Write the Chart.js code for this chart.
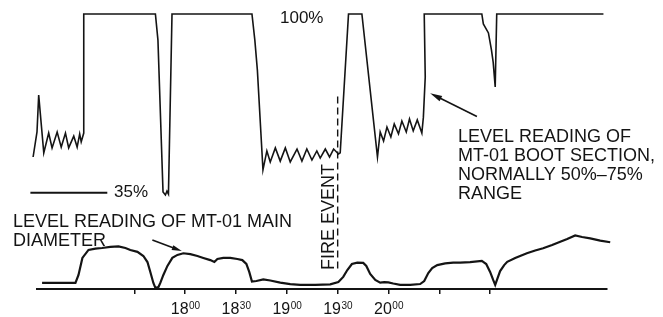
<!DOCTYPE html>
<html><head><meta charset="utf-8">
<script src="https://cdn.jsdelivr.net/npm/chart.js@4/dist/chart.umd.min.js"></script>
<style>html,body{margin:0;padding:0;background:#fff}#wrap{width:663px;height:317px;position:relative}</style>
</head><body><div id="wrap"><canvas id="c" width="663" height="317"></canvas></div>
<script>
// Time axis: minutes after midnight; level in percent
const bootTime = [990.2,992.5,993.5,996.5,999.4,1001.4,1004.4,1006.8,1009.3,1011.2,1014.2,1016.2,1017.7,1018.6,1020.1,1020.1,
  1062.4,1063.9,1066.9,1068.3,1069.2,1070.1,1072.2,
  1119.4,1121.1,1122.6,1125.9,1128.2,1130.2,1133.2,1136.1,1139.1,1142.0,1146.0,1148.9,1151.8,1154.8,1157.7,1159.7,1162.7,1165.2,1167.6,1170.5,1171.5,
  1176.4,1184.3,1193.5,1195.1,1197.1,1199.1,1201.4,1203.4,1205.9,1207.9,1210.5,1212.4,1214.6,1217.0,1219.7,1220.6,1221.7,1221.1,
  1255.1,1256.0,1259.0,1260.8,1261.8,1263.0,1263.9,1326.9];
const bootLevel = [48.0,57.1,70.5,49.5,56.7,51.3,57.1,51.6,56.7,51.3,55.6,51.6,56.4,53.5,56.7,100,
  100,90.5,35.3,34.2,35.6,34.5,100,
  100,90.5,79.6,43.3,50.2,46.2,51.3,46.5,51.3,46.2,50.9,46.5,50.9,46.9,50.2,47.6,50.9,48.0,50.9,49.1,49.5,
  100,100,48.0,57.1,53.8,58.9,55.3,60.0,56.4,61.1,57.1,61.8,57.5,61.5,56.7,62.5,77.1,100,
  100,96.4,93.1,86.9,82.5,73.5,100,100];

const mainTime = [995.5,1015.2,1017.0,1019.3,1022.9,1027.0,1030.9,1035.8,1040.6,1044.7,1047.6,1051.8,1055.3,1057.7,1059.4,1061.2,1062.4,1064.2,1065.3,1067.1,1069.5,1072.4,1075.4,1078.9,1083.0,1087.2,1090.7,1094.8,1097.2,1099.0,1102.5,1106.6,1110.8,1113.7,1116.1,1117.8,1119.4,1122.0,1126.1,1130.2,1136.1,1142.0,1147.9,1156.8,1165.6,1170.4,1173.3,1175.7,1178.4,1181.6,1185.1,1186.9,1189.2,1192.2,1195.1,1197.5,1199.9,1202.8,1206.9,1212.8,1218.7,1221.1,1223.5,1225.8,1228.8,1233.5,1238.2,1242.3,1248.2,1255.1,1257.7,1260.0,1261.8,1263.0,1264.2,1265.9,1268.3,1270.1,1274.8,1281.7,1286.6,1291.3,1296.6,1301.4,1305.5,1310.2,1314.3,1319.1,1325.0,1330.9,1336.8,1339.7];
const mainLevel = [2.2,2.2,5.1,11.3,14.2,14.7,14.9,15.3,15.5,14.9,14.2,13.5,12.0,9.8,6.2,2.2,0.4,0.7,2.2,5.1,8.4,11.3,12.4,13.0,12.7,12.0,11.3,10.5,9.8,10.9,11.3,11.3,10.9,10.5,9.1,6.2,2.7,2.9,3.5,3.1,2.3,1.8,1.5,1.5,1.7,2.5,4.4,6.9,9.1,9.6,9.5,8.4,5.5,3.3,2.3,2.5,2.4,2.0,1.5,1.5,1.8,2.9,5.8,7.6,8.7,9.3,9.6,9.6,9.8,10.2,9.1,6.2,3.3,1.5,3.6,6.5,8.7,9.9,11.3,13.0,14.0,14.8,16.0,17.2,18.2,19.5,18.9,18.4,17.6,17.0,15.6,15.2];

const refTime = [988.6,1034];
const refLevel = [35,35];
const fireTime = [1170,1170];
const fireLevel = [70,6];

const tickMinutes = [1050,1080,1110,1140,1170,1200,1230,1260];
const tickHour = ['','18','18','19','19','20','',''];
const tickSup  = ['','00','30','00','30','00','',''];

const pts = (xs, ys) => xs.map((x,i)=>({x:x,y:ys[i]}));
const INK = '#141414';

const annot = {
  id:'annot',
  afterDraw(chart){
    const ctx = chart.ctx, xs = chart.scales.x, ys = chart.scales.y;
    ctx.save();
    ctx.fillStyle = INK; ctx.strokeStyle = INK;
    // tick labels with superscripts
    tickMinutes.forEach((m,i)=>{
      if(!tickHour[i]) return;
      const px = xs.getPixelForValue(m);
      ctx.font = '16px "Liberation Sans", Arial, sans-serif';
      const w1 = ctx.measureText(tickHour[i]).width;
      ctx.font = '10px "Liberation Sans", Arial, sans-serif';
      const w2 = ctx.measureText(tickSup[i]).width;
      const x0 = px - (w1+w2)/2;
      ctx.textBaseline = 'alphabetic'; ctx.textAlign = 'left';
      ctx.font = '16px "Liberation Sans", Arial, sans-serif';
      ctx.fillText(tickHour[i], x0, 314);
      ctx.font = '10px "Liberation Sans", Arial, sans-serif';
      ctx.fillText(tickSup[i], x0 + w1 + 0.5, 308.5);
    });
    // text labels
    ctx.textAlign = 'left'; ctx.textBaseline = 'alphabetic';
    ctx.font = '17px "Liberation Sans", Arial, sans-serif';
    ctx.fillText('100%', 280, 23);
    ctx.textBaseline = 'middle';
    ctx.fillText('35%', 114, 192);
    ctx.textBaseline = 'alphabetic';
    ctx.font = '18px "Liberation Sans", Arial, sans-serif';
    ctx.fillText('LEVEL READING OF MT-01 MAIN', 13, 227);
    ctx.fillText('DIAMETER', 13, 246);
    ctx.fillText('LEVEL READING OF', 458, 142);
    ctx.fillText('MT-01 BOOT SECTION,', 458, 161);
    ctx.fillText('NORMALLY 50%–75%', 458, 180);
    ctx.fillText('RANGE', 458, 199);
    // rotated FIRE EVENT
    ctx.save();
    ctx.translate(334, 270);
    ctx.rotate(-Math.PI/2);
    ctx.fillText('FIRE EVENT', 0, 0);
    ctx.restore();
    // arrows
    const arrow = (t0,p0,t1,p1,len,half)=>{
      const x0 = xs.getPixelForValue(t0), y0 = ys.getPixelForValue(p0);
      const x1 = xs.getPixelForValue(t1), y1 = ys.getPixelForValue(p1);
      const a = Math.atan2(y1-y0, x1-x0);
      ctx.lineWidth = 1.6;
      ctx.beginPath(); ctx.moveTo(x0,y0);
      ctx.lineTo(x1 - Math.cos(a)*len*0.8, y1 - Math.sin(a)*len*0.8); ctx.stroke();
      ctx.beginPath();
      ctx.moveTo(x1,y1);
      ctx.lineTo(x1 - Math.cos(a)*len - Math.sin(a)*half, y1 - Math.sin(a)*len + Math.cos(a)*half);
      ctx.lineTo(x1 - Math.cos(a)*len + Math.sin(a)*half, y1 - Math.sin(a)*len - Math.cos(a)*half);
      ctx.closePath(); ctx.fill();
    };
    arrow(1252.2,62.7,1224.6,71.2,12,3);
    arrow(1060.6,17.8,1078.0,13.8,10,2.5);
    ctx.restore();
  }
};

new Chart(document.getElementById('c'), {
  type:'line',
  data:{datasets:[
    {data:pts(bootTime,bootLevel), borderColor:INK, borderWidth:1.6, clip:false},
    {data:pts(mainTime,mainLevel), borderColor:INK, borderWidth:2.2, clip:false},
    {data:pts(refTime,refLevel), borderColor:INK, borderWidth:1.8, clip:false},
    {data:pts(fireTime,fireLevel), borderColor:INK, borderWidth:1.4, borderDash:[7,4], clip:false}
  ]},
  options:{
    responsive:false, animation:false,
    layout:{padding:{left:37,right:56,top:14,bottom:23}},
    elements:{point:{radius:0,hoverRadius:0}, line:{tension:0, fill:false}},
    plugins:{legend:{display:false}, tooltip:{enabled:false}},
    scales:{
      x:{type:'linear', min:992.5, max:1329,
        afterBuildTicks:(s)=>{ s.ticks = tickMinutes.map(v=>({value:v})); },
        ticks:{display:false},
        grid:{drawOnChartArea:false, drawTicks:true, tickLength:5, color:INK, lineWidth:1.5},
        border:{display:true, color:INK, width:2}
      },
      y:{display:false, min:0, max:100}
    }
  },
  plugins:[annot]
});
</script></body></html>
